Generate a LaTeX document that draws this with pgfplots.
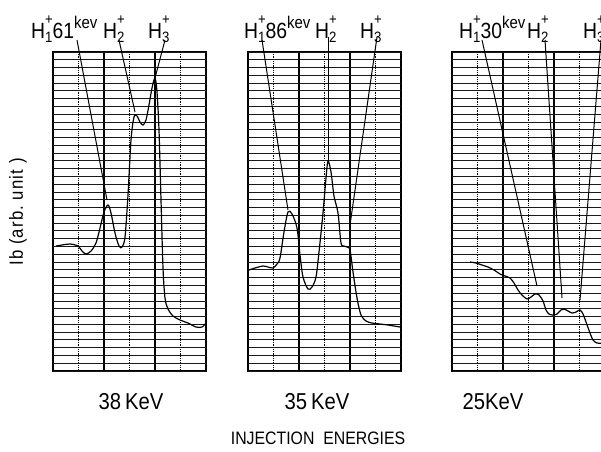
\documentclass[border=0pt]{standalone}
\usepackage{pgfplots}
\pgfplotsset{compat=1.18}
\usepackage{fontspec}
\setmainfont{Liberation Sans}[FakeStretch=0.88]
\newfontfamily\ylabfont{Liberation Sans}[FakeStretch=0.88, LetterSpace=6]
\newcommand{\sm}{\fontsize{15}{15}\selectfont}
\newcommand{\Hion}[1]{H\makebox[0pt][l]{\raisebox{0.6em}{\sm +}}\raisebox{-0.22em}{\sm #1}}
\newcommand{\kev}{\raisebox{0.42em}{\fontsize{17}{17}\selectfont kev}}
\pgfplotsset{panel/.style={
  x=1pt, y=1pt, y dir=reverse, ymin=52, ymax=371,
  anchor=north west, clip=false,
  axis line style={black, line width=1.1pt},
  ytick=\empty, yticklabels={},
  extra y ticks={52,59.78,...,371}, extra y tick labels={},
  extra y tick style={grid=major, major grid style={black!90, line width=0.95pt}},
  xticklabels={}, xmajorgrids,
  major grid style={black, line width=1.1pt},
  minor x tick num=1, xminorgrids,
  minor grid style={black, line width=0.8pt, densely dotted},
  major tick length=0pt, minor tick length=0pt,
  curve/.style={black, line width=1.2pt, smooth},
  lbl/.style={black, line width=1pt},
}}
\begin{document}
\begin{tikzpicture}
\useasboundingbox (0,0) rectangle (601pt,-451pt);
% Panel 1 : 38 keV
\begin{axis}[panel, xmin=53, xmax=206, at={(53pt,-52pt)},
  xtick={53,104,155,206}]
\addplot[curve] coordinates {(56,246) (62,245) (70,244) (78,246) (82,251) (86,254) (91,251) (96,243) (100,228) (104,212) (108,205) (111,213) (115,233) (119,246) (122,247) (125,237) (128,195) (131,140) (134,117) (137,116) (140,122) (143,125) (146,120) (149,105) (152,88) (155,78) (157,92) (159,130) (161,200) (163,268) (165,298) (168,309) (173,316) (180,320) (188,323) (196,327) (202,327) (206,323)};
\addplot[lbl] coordinates {(77,40) (107,200)};
\addplot[lbl] coordinates {(119,40) (135,112)};
\addplot[lbl] coordinates {(165,40) (155,78)};
\end{axis}
% Panel 2 : 35 keV
\begin{axis}[panel, xmin=248, xmax=401, at={(248pt,-52pt)},
  xtick={248,299,350,401}]
\addplot[curve] coordinates {(249,270) (255,268) (263,266) (268,267) (273,268) (277,264) (280,258) (284,232) (288,212) (292,214) (297,228) (300,255) (303,277) (308,289) (312,287) (316,277) (319,252) (323,213) (326,178) (328,161) (331,172) (334,196) (338,213) (341,243) (344,246) (347,247) (350,250) (353,272) (357,298) (361,315) (366,321) (372,323) (380,324) (388,325) (400,327)};
\addplot[lbl] coordinates {(262,40) (288,210)};
\addplot[lbl] coordinates {(328,37) (328,160)};
\addplot[lbl] coordinates {(377,37) (350,225)};
\end{axis}
% Panel 3 : 25 keV
\begin{axis}[panel, xmin=452, xmax=605, at={(452pt,-52pt)},
  xtick={452,503,554,605}]
\addplot[curve] coordinates {(470,262) (476,263) (482,265) (488,267) (494,270) (500,274) (505,276) (510,278) (514,283) (518,290) (522,295) (527,299) (531,297) (535,294) (539,295) (543,301) (546,310) (549,314) (553,315) (557,314) (561,310) (564,309) (568,311) (572,313) (576,312) (580,310) (583,314) (586,322) (590,333) (593,340) (597,343) (603,343)};
\addplot[lbl] coordinates {(482,40) (537,286)};
\addplot[lbl] coordinates {(545,40) (562,298)};
\addplot[lbl] coordinates {(601,40) (580,300)};
\end{axis}
% peak labels
\begin{scope}[every node/.style={anchor=base west, inner sep=0pt, font=\fontsize{22}{22}\selectfont}]
\node at (31pt,-38pt) {\Hion{1}61\kev};
\node at (103pt,-38pt) {\Hion{2}};
\node at (148pt,-38pt) {\Hion{3}};
\node at (244pt,-38pt) {\Hion{1}86\kev};
\node at (315pt,-38pt) {\Hion{2}};
\node at (360pt,-38pt) {\Hion{3}};
\node at (459pt,-38pt) {\Hion{1}30\kev};
\node at (527pt,-38pt) {\Hion{2}};
\node at (583pt,-38pt) {\Hion{3}};
\end{scope}
\node[rotate=90, inner sep=0pt, font=\fontsize{19}{19}\ylabfont] at (18pt,-212pt) {Ib (arb.\ unit )};
\begin{scope}[every node/.style={inner sep=0pt, font=\fontsize{23}{23}\selectfont}]
\node at (131pt,-402pt) {38\,KeV};
\node at (317pt,-402pt) {35\,KeV};
\node at (493pt,-402pt) {25KeV};
\end{scope}
\node[inner sep=0pt, font=\fontsize{18}{18}\selectfont] at (318pt,-438pt) {INJECTION\ \ ENERGIES};
\end{tikzpicture}
\end{document}
